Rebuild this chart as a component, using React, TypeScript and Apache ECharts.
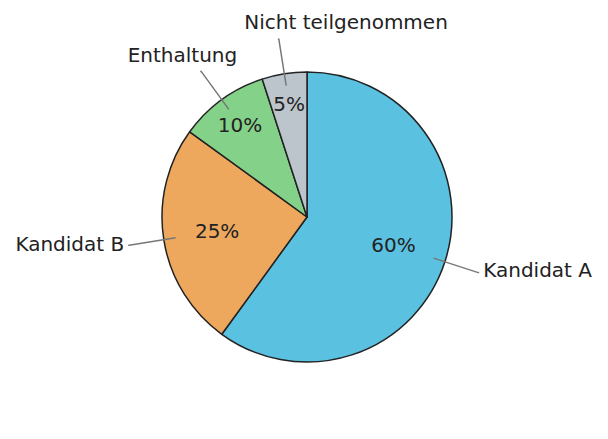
import React, { useRef, useEffect } from 'react';
import * as echarts from 'echarts';

// Stimmverteilung in Prozent
const categories = ['Kandidat A', 'Kandidat B', 'Enthaltung', 'Nicht teilgenommen'];
const values = [60, 25, 10, 5];
const colors = ['#5bc1e1', '#eda85e', '#84d189', '#bcc5cc'];

const FONT = '"DejaVu Sans", sans-serif';
const TEXT = '#222222';

// Beschriftungen der kleinen Segmente sitzen weiter außen
const smallSlices = ['Enthaltung', 'Nicht teilgenommen'];

// Versatz der äußeren Namen (Abstand zur Linie, Anhebung über das Linienende)
const nameShift: Record<string, { distance: number; lift: number }> = {
    'Kandidat A': { distance: 4, lift: 3 },
    'Kandidat B': { distance: 4, lift: 1 },
    'Enthaltung': { distance: -37, lift: 16 },
    'Nicht teilgenommen': { distance: -170, lift: 17 }
};

const App: React.FC = () => {
    const chartRef = useRef<HTMLDivElement>(null);

    useEffect(() => {
        if (!chartRef.current) return;
        const chart = echarts.init(chartRef.current, undefined, { renderer: 'svg' });

        const center = [307, 217];
        const transparent = { color: 'rgba(0,0,0,0)', borderWidth: 0 };

        const pctData = (show: (name: string) => boolean) =>
            categories.map((name, i) => ({
                name,
                value: values[i],
                label: { show: show(name) }
            }));

        chart.setOption({
            animation: false,
            backgroundColor: '#ffffff',
            series: [
                {
                    type: 'pie',
                    z: 1,
                    center,
                    radius: 145,
                    startAngle: 90,
                    clockwise: true,
                    silent: true,
                    label: { show: false },
                    labelLine: { show: false },
                    itemStyle: { borderColor: '#222222', borderWidth: 1.5 },
                    data: categories.map((name, i) => ({
                        name,
                        value: values[i],
                        itemStyle: { color: colors[i] }
                    }))
                },
                {
                    // Prozentwerte der großen Segmente
                    type: 'pie',
                    z: 3,
                    center,
                    radius: [31, 145],
                    startAngle: 90,
                    silent: true,
                    itemStyle: transparent,
                    label: {
                        position: 'inside',
                        formatter: '{c}%',
                        color: TEXT,
                        fontFamily: FONT,
                        fontSize: 20
                    },
                    data: pctData((n) => !smallSlices.includes(n))
                },
                {
                    // Prozentwerte der kleinen Segmente
                    type: 'pie',
                    z: 3,
                    center,
                    radius: [77, 145],
                    startAngle: 90,
                    silent: true,
                    itemStyle: transparent,
                    label: {
                        position: 'inside',
                        formatter: '{c}%',
                        color: TEXT,
                        fontFamily: FONT,
                        fontSize: 20
                    },
                    data: pctData((n) => smallSlices.includes(n))
                },
                {
                    // Namen außen mit Hinweislinien
                    type: 'pie',
                    z: 3,
                    center,
                    radius: [0, 133],
                    startAngle: 90,
                    silent: true,
                    avoidLabelOverlap: false,
                    itemStyle: transparent,
                    label: {
                        position: 'outside',
                        color: TEXT,
                        fontFamily: FONT,
                        fontSize: 20
                    },
                    labelLine: {
                        show: true,
                        length: 47,
                        length2: 1,
                        lineStyle: { color: '#777777', width: 1.5 }
                    },
                    data: categories.map((name, i) => {
                        const s = nameShift[name];
                        return {
                            name,
                            value: values[i],
                            label: {
                                distanceToLabelLine: s.distance,
                                formatter: '{b}\n',
                                lineHeight: s.lift * 2
                            }
                        };
                    })
                }
            ]
        });

        return () => {
            chart.dispose();
        };
    }, []);

    return (
        <div
            ref={chartRef}
            style={{ position: 'fixed', left: 0, top: 0, width: '608px', height: '439px' }}
        />
    );
};

export default App;
